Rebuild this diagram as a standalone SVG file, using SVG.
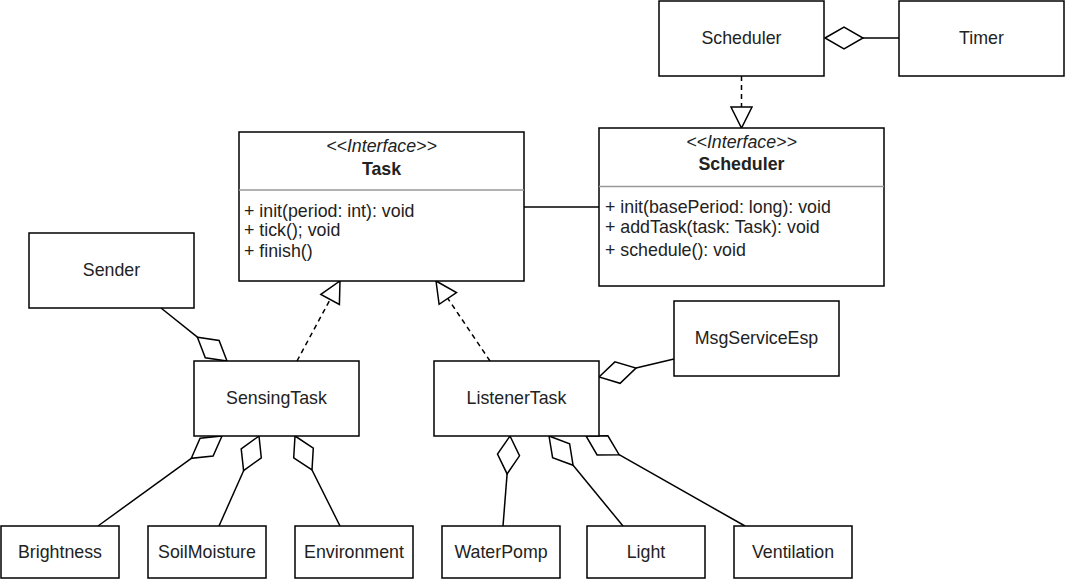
<svg xmlns="http://www.w3.org/2000/svg" width="1065" height="581" viewBox="0 0 1065 581">
<style>
.box{fill:#fff;stroke:#000;stroke-width:1.5}
.sep{stroke:#999;stroke-width:1.5}
.t{font-family:"Liberation Sans",Arial,sans-serif;font-size:17.8px;fill:#222}
.c{text-anchor:middle}
.b{font-weight:bold}
.i{font-style:italic}
.ln{fill:none;stroke:#000;stroke-width:1.5}
.dash{fill:none;stroke:#000;stroke-width:1.5;stroke-dasharray:5 4}
.hd{fill:#fff;stroke:#000;stroke-width:1.5}
</style>
<rect width="1065" height="581" fill="#fff"/>
<g id="connectors">
<line class="dash" x1="741.5" y1="76" x2="741.5" y2="107"/>
<polygon class="hd" points="731,107 752,107 741.5,128"/>
<line class="ln" x1="863" y1="38" x2="899" y2="38"/>
<polygon class="hd" points="825,38 844,27 863,38 844,49"/>
<line class="ln" x1="524" y1="207" x2="599" y2="207"/>
<line class="dash" x1="297" y1="361" x2="330.1" y2="299.5"/>
<polygon class="hd" points="340,281 339.4,304.5 320.8,294.5"/>
<line class="dash" x1="490" y1="361" x2="447.8" y2="298.4"/>
<polygon class="hd" points="436,281 456.5,292.5 439.1,304.3"/>
<line class="ln" x1="197.4" y1="337.2" x2="161" y2="308"/>
<polygon class="hd" points="227,361 219.1,340.5 197.4,337.2 205.3,357.7"/>
<line class="ln" x1="191.3" y1="458.3" x2="98" y2="526"/>
<polygon class="hd" points="222,436 213.1,456.1 191.3,458.3 200.1,438.3"/>
<line class="ln" x1="243.6" y1="470.7" x2="219" y2="526"/>
<polygon class="hd" points="259,436 261.3,457.8 243.6,470.7 241.2,448.9"/>
<line class="ln" x1="312" y1="470" x2="340" y2="526"/>
<polygon class="hd" points="295,436 313.3,448.1 312,470 293.7,457.9"/>
<line class="ln" x1="507.1" y1="473.9" x2="503" y2="526"/>
<polygon class="hd" points="510,436 519.5,455.8 507.1,473.9 497.5,454.1"/>
<line class="ln" x1="573.1" y1="465.3" x2="623" y2="526"/>
<polygon class="hd" points="549,436 569.6,443.7 573.1,465.3 552.6,457.7"/>
<line class="ln" x1="619.1" y1="454.7" x2="745" y2="526"/>
<polygon class="hd" points="586,436 607.9,435.8 619.1,454.7 597.1,455"/>
<line class="ln" x1="636" y1="368.1" x2="674" y2="359"/>
<polygon class="hd" points="599,377 614.9,361.9 636,368.1 620.1,383.3"/>
</g>
<g id="scheduler">
<rect class="box" x="659" y="1" width="165" height="75"/>
<text class="t c" x="741.5" y="44">Scheduler</text>
</g>
<g id="timer">
<rect class="box" x="899" y="1" width="165" height="75"/>
<text class="t c" x="981.5" y="44">Timer</text>
</g>
<g id="task">
<rect class="box" x="239" y="132" width="285" height="149"/>
<line class="sep" x1="239" y1="190" x2="524" y2="190"/>
<text class="t c i" x="381.5" y="152">&lt;&lt;Interface&gt;&gt;</text>
<text class="t c b" x="381.5" y="175">Task</text>
<text class="t" x="244" y="217">+ init(period: int): void</text>
<text class="t" x="244" y="236">+ tick(); void</text>
<text class="t" x="244" y="256.5">+ finish()</text>
</g>
<g id="schedulerInterface">
<rect class="box" x="599" y="128" width="285" height="158"/>
<line class="sep" x1="599" y1="186.5" x2="884" y2="186.5"/>
<text class="t c i" x="741.5" y="148">&lt;&lt;Interface&gt;&gt;</text>
<text class="t c b" x="741.5" y="170">Scheduler</text>
<text class="t" x="605" y="213">+ init(basePeriod: long): void</text>
<text class="t" x="605" y="233">+ addTask(task: Task): void</text>
<text class="t" x="605" y="256">+ schedule(): void</text>
</g>
<g id="sender">
<rect class="box" x="29" y="233" width="165" height="75"/>
<text class="t c" x="111.5" y="276">Sender</text>
</g>
<g id="sensingTask">
<rect class="box" x="194" y="361" width="165" height="75"/>
<text class="t c" x="276.5" y="404">SensingTask</text>
</g>
<g id="listenerTask">
<rect class="box" x="434" y="361" width="165" height="75"/>
<text class="t c" x="516.5" y="404">ListenerTask</text>
</g>
<g id="msgServiceEsp">
<rect class="box" x="674" y="301" width="165" height="75"/>
<text class="t c" x="756.5" y="344">MsgServiceEsp</text>
</g>
<g id="brightness">
<rect class="box" x="1" y="526" width="118" height="52"/>
<text class="t c" x="60" y="558">Brightness</text>
</g>
<g id="soilMoisture">
<rect class="box" x="148" y="526" width="118" height="52"/>
<text class="t c" x="207" y="558">SoilMoisture</text>
</g>
<g id="environment">
<rect class="box" x="295" y="526" width="118" height="52"/>
<text class="t c" x="354" y="558">Environment</text>
</g>
<g id="waterPomp">
<rect class="box" x="442" y="526" width="118" height="52"/>
<text class="t c" x="501" y="558">WaterPomp</text>
</g>
<g id="light">
<rect class="box" x="587" y="526" width="118" height="52"/>
<text class="t c" x="646" y="558">Light</text>
</g>
<g id="ventilation">
<rect class="box" x="734" y="526" width="118" height="52"/>
<text class="t c" x="793" y="558">Ventilation</text>
</g>
</svg>
